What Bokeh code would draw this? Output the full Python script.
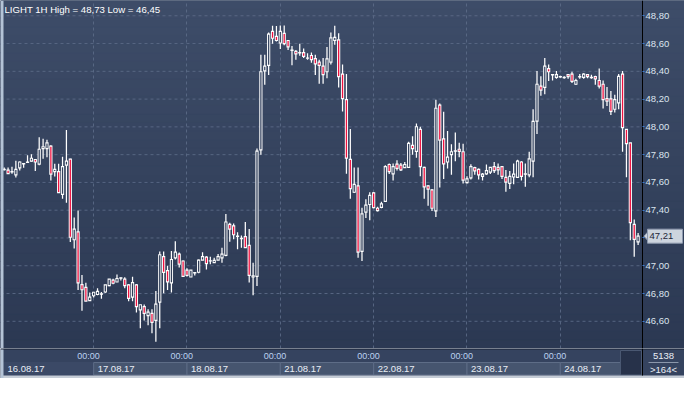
import numpy as np
from bokeh.plotting import figure
from bokeh.layouts import column
from bokeh.models import Range1d, FixedTicker, Label, CustomJSTickFormatter
from bokeh.core.properties import value
from bokeh.embed import file_html
from bokeh.resources import INLINE

# ---------------- data (LIGHT, 1H candles, 16.08.17 01:00 -> 24.08.17 20:00) ----------------
open_ = [47.694, 47.689, 47.678, 47.655, 47.705, 47.735, 47.744, 47.754, 47.765, 47.731,
         47.843, 47.843, 47.862, 47.678, 47.678, 47.514, 47.724, 47.767, 47.187, 47.244,
         46.864, 46.844, 46.749, 46.784, 46.793, 46.798, 46.811, 46.857, 46.897, 46.883,
         46.913, 46.903, 46.862, 46.774, 46.862, 46.682, 46.705, 46.641, 46.657, 46.606,
         46.738, 47.065, 46.965, 46.877, 47.057, 47.084, 47.034, 46.969, 46.919, 46.949,
         46.953, 47.041, 47.062, 47.034, 47.022, 47.041, 47.057, 47.075, 47.298, 47.287,
         47.213, 47.195, 47.209, 47.146, 46.919, 46.923, 47.835, 48.403, 48.443, 48.687,
         48.652, 48.604, 48.673, 48.622, 48.553, 48.544, 48.535, 48.535, 48.496, 48.514,
         48.491, 48.466, 48.438, 48.397, 48.466, 48.622, 48.627, 48.380, 48.196, 47.766,
         47.529, 47.575, 47.103, 47.386, 47.441, 47.524, 47.414, 47.420, 47.464, 47.729,
         47.662, 47.731, 47.724, 47.706, 47.708, 47.867, 47.823, 47.982, 47.708, 47.575,
         47.547, 47.395, 48.157, 47.913, 47.747, 47.800, 47.828, 47.839, 47.821, 47.598,
         47.632, 47.706, 47.694, 47.644, 47.662, 47.674, 47.713, 47.708, 47.713, 47.637,
         47.593, 47.639, 47.637, 47.747, 47.662, 47.655, 47.754, 48.042, 48.293, 48.284,
         48.420, 48.376, 48.357, 48.362, 48.357, 48.376, 48.380, 48.307, 48.362, 48.357,
         48.376, 48.357, 48.362, 48.334, 48.307, 48.203, 48.201, 48.127, 48.173, 48.380,
         47.982, 47.885, 47.298, 47.172]
high = [47.708, 47.708, 47.712, 47.756, 47.751, 47.736, 47.795, 47.802, 47.767, 47.926,
        47.915, 47.908, 47.867, 47.735, 47.735, 47.784, 47.977, 47.770, 47.348, 47.397,
        46.933, 46.878, 46.807, 46.809, 46.837, 46.811, 46.862, 46.903, 46.906, 46.936,
        46.917, 46.917, 46.867, 46.920, 46.867, 46.719, 46.721, 46.687, 46.687, 46.818,
        47.102, 47.102, 46.999, 47.107, 47.176, 47.096, 47.038, 46.981, 46.969, 46.953,
        47.045, 47.098, 47.068, 47.064, 47.057, 47.084, 47.130, 47.372, 47.310, 47.305,
        47.241, 47.218, 47.315, 47.264, 47.022, 47.844, 48.519, 48.519, 48.680, 48.728,
        48.726, 48.730, 48.730, 48.622, 48.583, 48.553, 48.599, 48.565, 48.530, 48.535,
        48.519, 48.484, 48.496, 48.576, 48.680, 48.728, 48.675, 48.449, 48.380, 47.984,
        47.708, 47.708, 47.418, 47.478, 47.529, 47.529, 47.425, 47.460, 47.724, 47.736,
        47.736, 47.759, 47.740, 47.747, 47.892, 47.932, 48.024, 48.001, 47.713, 47.579,
        47.552, 48.196, 48.169, 48.109, 47.971, 47.874, 47.959, 47.885, 47.879, 47.644,
        47.731, 47.713, 47.701, 47.667, 47.729, 47.708, 47.747, 47.736, 47.713, 47.690,
        47.683, 47.736, 47.763, 47.752, 47.736, 47.821, 48.127, 48.403, 48.364, 48.496,
        48.449, 48.376, 48.403, 48.369, 48.364, 48.380, 48.397, 48.346, 48.380, 48.387,
        48.380, 48.376, 48.369, 48.420, 48.334, 48.288, 48.258, 48.231, 48.380, 48.403,
        47.982, 47.885, 47.333, 47.236]
low = [47.685, 47.662, 47.662, 47.636, 47.685, 47.705, 47.744, 47.751, 47.682, 47.724,
       47.770, 47.781, 47.613, 47.643, 47.523, 47.482, 47.454, 47.171, 47.125, 46.825,
       46.675, 46.745, 46.749, 46.772, 46.788, 46.763, 46.805, 46.853, 46.867, 46.883,
       46.894, 46.837, 46.745, 46.745, 46.664, 46.549, 46.606, 46.572, 46.514, 46.452,
       46.549, 46.802, 46.826, 46.808, 47.045, 46.988, 46.919, 46.923, 46.919, 46.930,
       46.946, 47.041, 46.972, 47.011, 47.022, 47.041, 47.022, 47.068, 47.172, 47.190,
       47.119, 47.130, 47.130, 46.880, 46.787, 46.854, 47.800, 48.304, 48.374, 48.599,
       48.615, 48.560, 48.588, 48.553, 48.443, 48.484, 48.512, 48.496, 48.484, 48.461,
       48.374, 48.311, 48.311, 48.350, 48.449, 48.592, 48.284, 48.111, 47.662, 47.483,
       47.524, 47.057, 47.034, 47.344, 47.328, 47.414, 47.391, 47.414, 47.460, 47.660,
       47.614, 47.685, 47.683, 47.706, 47.708, 47.800, 47.777, 47.644, 47.483, 47.432,
       47.395, 47.351, 47.563, 47.625, 47.701, 47.655, 47.752, 47.782, 47.593, 47.593,
       47.621, 47.655, 47.621, 47.614, 47.655, 47.660, 47.667, 47.655, 47.625, 47.533,
       47.552, 47.586, 47.632, 47.614, 47.568, 47.637, 47.637, 47.948, 48.224, 48.235,
       48.330, 48.334, 48.346, 48.353, 48.346, 48.346, 48.316, 48.304, 48.346, 48.346,
       48.350, 48.346, 48.304, 48.277, 48.132, 48.150, 48.086, 48.104, 48.127, 47.821,
       47.637, 47.183, 47.064, 47.149]
close_ = [47.692, 47.664, 47.675, 47.694, 47.747, 47.733, 47.747, 47.774, 47.747, 47.839,
          47.857, 47.885, 47.659, 47.694, 47.526, 47.714, 47.754, 47.205, 47.263, 46.876,
          46.827, 46.745, 46.774, 46.809, 46.816, 46.796, 46.862, 46.903, 46.874, 46.908,
          46.911, 46.857, 46.765, 46.878, 46.705, 46.719, 46.657, 46.666, 46.592, 46.724,
          47.079, 46.952, 46.884, 47.045, 47.098, 47.011, 46.923, 46.930, 46.969, 46.951,
          47.041, 47.066, 47.015, 47.036, 47.038, 47.066, 47.084, 47.315, 47.264, 47.223,
          47.211, 47.197, 47.130, 46.930, 46.928, 47.826, 48.397, 48.438, 48.668, 48.638,
          48.622, 48.687, 48.599, 48.576, 48.551, 48.525, 48.533, 48.507, 48.494, 48.484,
          48.454, 48.443, 48.376, 48.489, 48.641, 48.645, 48.362, 48.203, 47.775, 47.556,
          47.586, 47.098, 47.374, 47.436, 47.506, 47.418, 47.397, 47.446, 47.713, 47.678,
          47.713, 47.701, 47.690, 47.729, 47.881, 47.844, 48.001, 47.713, 47.568, 47.552,
          47.414, 48.134, 47.904, 47.734, 47.782, 47.821, 47.826, 47.823, 47.616, 47.625,
          47.713, 47.683, 47.655, 47.660, 47.685, 47.708, 47.685, 47.690, 47.644, 47.602,
          47.644, 47.660, 47.754, 47.644, 47.660, 47.770, 48.040, 48.307, 48.265, 48.438,
          48.397, 48.374, 48.376, 48.360, 48.355, 48.362, 48.327, 48.334, 48.360, 48.380,
          48.362, 48.355, 48.346, 48.293, 48.196, 48.185, 48.111, 48.196, 48.364, 47.994,
          47.879, 47.310, 47.190, 47.213]

symbol = "LIGHT 1H"
day_labels = ["16.08.17", "17.08.17", "18.08.17", "21.08.17", "22.08.17", "23.08.17", "24.08.17"]
day_tick_label = "00:00"
first_hour = 1          # first candle shown is 01:00 of the first day
bars_per_day = 24
price_ticks = [46.6, 46.8, 47.0, 47.2, 47.4, 47.6, 47.8, 48.0, 48.2, 48.4, 48.6, 48.8]
total_quotes = 5138

# ---------------- layout ----------------
W = 684
AXIS_W = 42
CHART_W = W - AXIS_W
MAIN_H = 348
BOT_H = 30
PX = 3.889          # pixels per candle
FIRST_PX = 3.7      # first candle centre from the left edge
x_start = -FIRST_PX / PX
x_end = x_start + CHART_W / PX      # right edge of the candle area (price axis line)
x_total = x_start + W / PX          # right edge of the canvas
y_lo, y_hi = 46.404, 48.910
PY = MAIN_H / (y_hi - y_lo)         # pixels per price unit
FONT = "Liberation Sans"
RED = "#ee1240"
TOP_RGB = np.array([0x3e, 0x4d, 0x69])
BOT_RGB = np.array([0x2c, 0x39, 0x53])

def grad_color(price):
    t = min(max((price - y_lo) / (y_hi - y_lo), 0.0), 1.0)
    return "#%02x%02x%02x" % tuple((BOT_RGB + (TOP_RGB - BOT_RGB) * t).astype(int))

def fmt(v):
    return f"{v:.2f}".replace(".", ",")

# ---------------- derived ----------------
o = np.array(open_); h = np.array(high); l = np.array(low); c = np.array(close_)
n = len(c)
idx = np.arange(n)
up = c >= o
body_top = np.maximum(o, c)
body_bot = np.minimum(o, c)
outer_top = body_top + 0.6 / PY
outer_bot = body_bot - 0.6 / PY
inner_top = body_top - 0.6 / PY
inner_bot = body_bot + 0.6 / PY
has_inner = inner_top > inner_bot
inner_cols = [RED if not u else grad_color((a + b_) / 2) for u, a, b_ in zip(up, body_top, body_bot)]
day_starts = [-first_hour + k * bars_per_day for k in range(len(day_labels))]
last = float(c[-1])

xr = Range1d(x_start, x_total)
p = figure(width=W, height=MAIN_H, x_range=xr, y_range=Range1d(y_lo, y_hi),
           output_backend="svg", toolbar_location=None, y_axis_location="right",
           x_axis_location=None, min_border=0)
p.border_fill_color = "#36445f"
p.background_fill_color = "#2f3c57"
p.outline_line_color = None

# background gradient
NB = 40
edges = np.linspace(y_lo, y_hi, NB + 1)
band_cols = [grad_color((edges[k] + edges[k + 1]) / 2) for k in range(NB)]
p.quad(left=x_start, right=x_total, bottom=edges[:-1], top=edges[1:], fill_color=band_cols,
       line_color=band_cols, line_width=1, level="image")

# grid
p.ygrid.visible = False
p.xgrid.ticker = FixedTicker(ticks=[d for d in day_starts if d > x_start])
p.xgrid.grid_line_color = "#5d6c88"
p.xgrid.grid_line_dash = "3 3"
p.xgrid.grid_line_alpha = 0.85
p.segment(x0=x_start, x1=x_end, y0=price_ticks, y1=price_ticks, line_color="#5d6c88",
          line_dash="3 3", line_alpha=0.85, line_width=1, level="underlay")

# right price axis at the edge of the candle area
ax = p.yaxis[0]
ax.fixed_location = x_end
ax.ticker = FixedTicker(ticks=price_ticks)
ax.formatter = CustomJSTickFormatter(args=dict(last=last), code="""
    if (Math.abs(tick - last) < 0.06) { return ""; }
    return tick.toFixed(2).replace('.', ',');
""")
ax.axis_line_color = "black"
ax.axis_line_width = 1
ax.major_tick_out = 2
ax.major_tick_in = 0
ax.major_tick_line_color = "#3f7fd6"
ax.minor_tick_out = 0
ax.minor_tick_in = 0
ax.major_label_standoff = 1
ax.major_label_text_color = "#dce4ee"
ax.major_label_text_font = FONT
ax.major_label_text_font_size = "9.5px"

# candles: wicks, white body, then red / hollow interior
p.segment(x0=idx, y0=body_top, x1=idx, y1=h, line_color="white", line_width=1.25)
p.segment(x0=idx, y0=body_bot, x1=idx, y1=l, line_color="white", line_width=1.25)
p.vbar(x=idx, width=3.2 / PX, top=outer_top, bottom=outer_bot, fill_color="white",
       line_color=None)
m = has_inner
p.vbar(x=idx[m], width=1.3 / PX, top=inner_top[m], bottom=inner_bot[m],
       fill_color=[col for col, k in zip(inner_cols, m) if k], line_color=None)

# left light strip
p.quad(left=x_start, right=x_start + 3 / PX, bottom=y_lo, top=y_hi, fill_color="#b4c3d6",
       line_color=None)

# title
p.add_layout(Label(x=x_start, y=y_hi, x_offset=4, y_offset=-3, text_baseline="top",
                   text=f"{symbol} High = {fmt(h.max())} Low = {fmt(l.min())}",
                   text_color="white", text_font=FONT, text_font_size="9.6px"))

# last price callout in the axis column
bl = x_end + 5 / PX
br = x_end + 40 / PX
p.quad(left=bl, right=br, bottom=last - 7 / PY, top=last + 7 / PY, fill_color="#cdd4de",
       line_color="#8f9bb0", line_width=1)
p.patch(x=[x_end + 1.5 / PX, bl, bl], y=[last, last + 4 / PY, last - 4 / PY],
        fill_color="#cdd4de", line_color="#8f9bb0", line_width=1)
p.text(x=[bl + 2 / PX], y=[last], text=[fmt(last)], text_align="left", text_baseline="middle",
       text_color="#1d2638", text_font=value(FONT), text_font_size="9.5px")

# ---------------- bottom time panel ----------------
b = figure(width=W, height=BOT_H, x_range=xr, y_range=Range1d(-3, 27),
           output_backend="svg", toolbar_location=None, x_axis_location=None,
           y_axis_location=None, min_border=0)
b.grid.visible = False
b.outline_line_color = None
b.background_fill_color = "#35435f"
b.border_fill_color = "#35435f"

scroll_left = x_end - 22 / PX
lefts, rights, bcols, lcols = [], [], [], []
for k, d in enumerate(day_starts):
    left = max(d, x_start + 3 / PX)
    right = day_starts[k + 1] if k + 1 < len(day_starts) else scroll_left
    lefts.append(left); rights.append(right)
    bcols.append("#3b4966" if k == 0 else "#46556f")
    lcols.append("#3b4966" if k == 0 else "#5e6d87")
b.quad(left=lefts, right=rights, bottom=0.5, top=13, fill_color=bcols, line_color=lcols)
b.quad(left=scroll_left, right=x_end - 1 / PX, bottom=0.5, top=25, fill_color="#27324a",
       line_color="#4a5872")
b.text(x=[max(d, x_start + 3 / PX) for d in day_starts], y=6.5, text=day_labels,
       x_offset=4, text_align="left", text_baseline="middle", text_color="#e9eef6",
       text_font=value(FONT), text_font_size="9.5px")
ticks_vis = [d for d in day_starts if d > x_start]
b.text(x=ticks_vis, y=19.5, text=[day_tick_label] * len(ticks_vis), x_offset=6,
       text_align="right", text_baseline="middle", text_color="#bcd2f0",
       text_font=value(FONT), text_font_size="9px")
b.quad(left=x_start, right=x_total, bottom=-3, top=0, fill_color="#c5ccd6", line_color=None)
b.quad(left=x_start, right=x_start + 3 / PX, bottom=-3, top=27, fill_color="#b4c3d6",
       line_color=None)
b.segment(x0=x_start, y0=26.5, x1=x_total, y1=26.5, line_color="#1a2233", line_width=1)
b.segment(x0=x_end, y0=0, x1=x_end, y1=27, line_color="black", line_width=1)
mid_r = x_end + (AXIS_W / 2) / PX
b.segment(x0=x_end + 6 / PX, y0=13, x1=x_total - 6 / PX, y1=13, line_color="#8b97ab",
          line_width=1)
b.text(x=[mid_r, mid_r], y=[19.5, 6.5], text=[str(total_quotes), f">{n}<"],
       text_align="center", text_baseline="middle", text_color="#e9eef6",
       text_font=value(FONT), text_font_size="9.5px")

layout = column(p, b, spacing=0)
open("out.html", "w").write(file_html(layout, INLINE))
